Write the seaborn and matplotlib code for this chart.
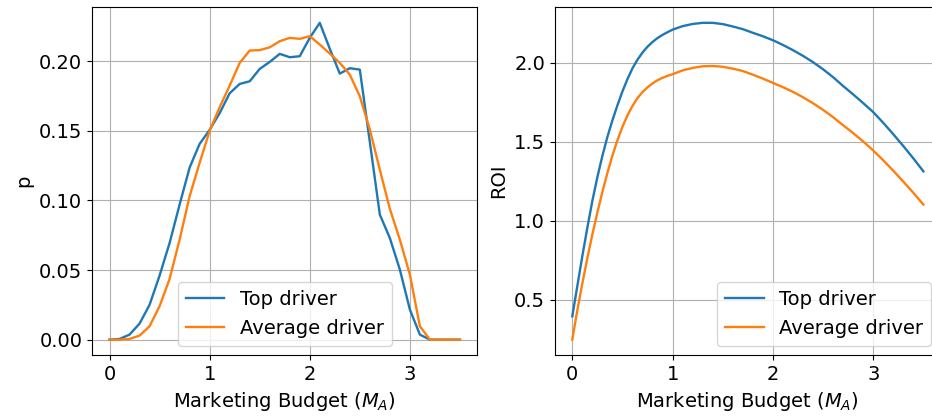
import numpy as np
import pandas as pd
import matplotlib
matplotlib.use("Agg")
import matplotlib.pyplot as plt
import seaborn as sns

budget_p = [0.0, 0.1, 0.2, 0.3, 0.4, 0.5, 0.6, 0.7, 0.8, 0.9,
            1.0, 1.1, 1.2, 1.3, 1.4, 1.5, 1.6, 1.7, 1.8, 1.9,
            2.0, 2.1, 2.2, 2.3, 2.4, 2.5, 2.6, 2.7, 2.8, 2.9,
            3.0, 3.1, 3.2, 3.3, 3.4, 3.5]

p_top = [0.0, 0.0005, 0.0036, 0.0115, 0.025, 0.046, 0.0694, 0.097, 0.1236, 0.1406,
         0.1507, 0.1627, 0.177, 0.1837, 0.1856, 0.1945, 0.1995, 0.2053, 0.2029, 0.2036,
         0.2168, 0.2276, 0.209, 0.1911, 0.195, 0.194, 0.142, 0.0898, 0.073, 0.0503,
         0.0216, 0.0036, 0.0, 0.0, 0.0, 0.0]
p_avg = [0.0, 0.0, 0.0005, 0.0029, 0.0096, 0.024, 0.0436, 0.0718, 0.103, 0.127,
         0.150, 0.167, 0.1825, 0.1988, 0.2077, 0.208, 0.210, 0.2144, 0.2168, 0.2161,
         0.218, 0.212, 0.2055, 0.1988, 0.1904, 0.1748, 0.151, 0.122, 0.094, 0.0718,
         0.0467, 0.0096, 0.0, 0.0, 0.0, 0.0]

budget_roi = [0.0, 0.05, 0.1, 0.15, 0.2, 0.25, 0.3, 0.35, 0.4, 0.45,
              0.5, 0.55, 0.6, 0.65, 0.7, 0.75, 0.8, 0.85, 0.9, 0.95,
              1.0, 1.1, 1.2, 1.3, 1.4, 1.5, 1.6, 1.7, 1.8, 1.9,
              2.0, 2.1, 2.2, 2.3, 2.4, 2.5, 2.6, 2.7, 2.8, 2.9,
              3.0, 3.1, 3.2, 3.3, 3.4, 3.5]

roi_top = [0.396, 0.586, 0.776, 0.956, 1.126, 1.276, 1.411, 1.531, 1.636, 1.731,
           1.819, 1.897, 1.965, 2.02, 2.065, 2.102, 2.132, 2.157, 2.177, 2.194,
           2.21, 2.232, 2.246, 2.253, 2.253, 2.245, 2.23, 2.213, 2.19, 2.168,
           2.143, 2.113, 2.08, 2.044, 2.004, 1.959, 1.909, 1.853, 1.80, 1.745,
           1.688, 1.62, 1.548, 1.473, 1.395, 1.313]
roi_avg = [0.248, 0.433, 0.603, 0.763, 0.913, 1.053, 1.183, 1.303, 1.413, 1.51,
           1.595, 1.667, 1.727, 1.777, 1.815, 1.845, 1.87, 1.89, 1.905, 1.918,
           1.928, 1.952, 1.968, 1.978, 1.98, 1.975, 1.963, 1.948, 1.925, 1.90,
           1.873, 1.846, 1.816, 1.782, 1.744, 1.702, 1.656, 1.605, 1.555, 1.502,
           1.445, 1.383, 1.317, 1.248, 1.177, 1.103]

drivers = ["Top driver", "Average driver"]
colors = ["#1f77b4", "#ff7f0e"]

plt.rcParams["font.size"] = 14
plt.rcParams["font.family"] = ["DejaVu Sans"]

df_p = pd.DataFrame({
    "budget": budget_p * 2,
    "value": p_top + p_avg,
    "driver": [drivers[0]] * len(budget_p) + [drivers[1]] * len(budget_p),
})
df_r = pd.DataFrame({
    "budget": budget_roi * 2,
    "value": roi_top + roi_avg,
    "driver": [drivers[0]] * len(budget_roi) + [drivers[1]] * len(budget_roi),
})

fig = plt.figure(figsize=(9.32, 4.19), dpi=100)
ax1 = fig.add_axes([0.0987, 0.1516, 0.4136, 0.8317])
ax2 = fig.add_axes([0.5952, 0.1516, 0.4144, 0.8317])

for ax, df, ylab, loc in [(ax1, df_p, "p", "lower center"), (ax2, df_r, "ROI", "lower right")]:
    sns.lineplot(data=df, x="budget", y="value", hue="driver", hue_order=drivers,
                 palette=colors, linewidth=1.7, errorbar=None, ax=ax)
    ax.grid(True, color="#b0b0b0", linewidth=0.8)
    ax.set_axisbelow(True)
    ax.set_xlabel("Marketing Budget ($M_A$)")
    ax.set_ylabel(ylab)
    ax.set_xticks([0, 1, 2, 3])
    handles, labels = ax.get_legend_handles_labels()
    ax.legend(handles, labels, loc=loc)

ax2.set_yticks([0.5, 1.0, 1.5, 2.0])

fig.savefig("out.png", dpi=100)
